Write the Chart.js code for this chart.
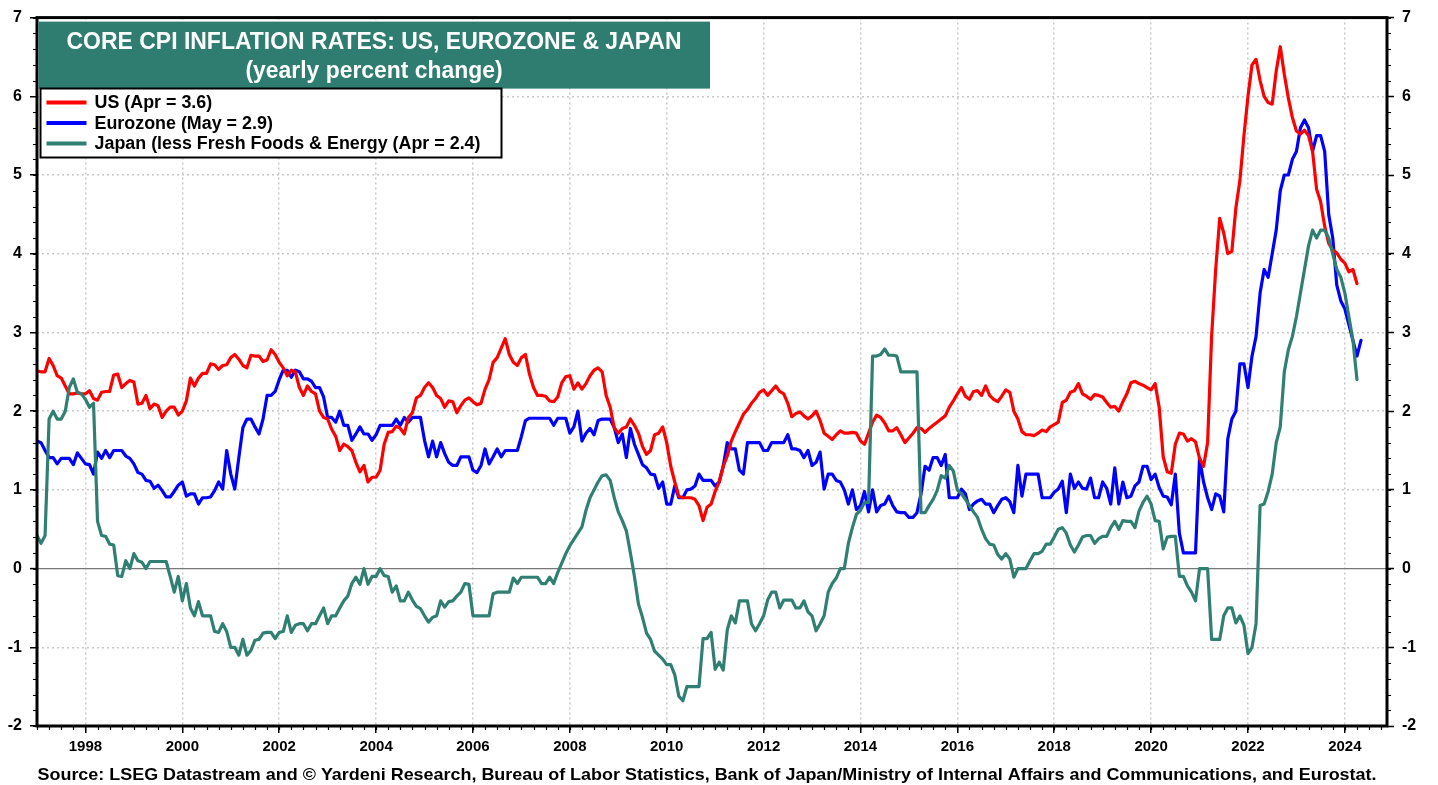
<!DOCTYPE html>
<html>
<head>
<meta charset="utf-8">
<title>Core CPI Inflation Rates: US, Eurozone & Japan</title>
<script src="https://cdn.jsdelivr.net/npm/chart.js@4.4.1/dist/chart.umd.min.js"></script>
<style>
    html, body { margin: 0; padding: 0; background: #fff; }
    #wrap { width: 1438px; height: 785px; position: relative; }
</style>
</head>
<body>
<div id="wrap"><canvas id="cpiChart"></canvas></div>
<script>
// monthly yearly % change, first value = Jan 1997
const startYear = 1997;

const usCore = [
    2.51, 2.50, 2.50, 2.67, 2.58, 2.45, 2.42, 2.32, 2.22, 2.22, 2.23, 2.22,
    2.22, 2.26, 2.16, 2.14, 2.24, 2.25, 2.25, 2.46, 2.47, 2.30, 2.35, 2.39,
    2.37, 2.09, 2.10, 2.20, 2.03, 2.09, 2.07, 1.92, 2.00, 2.05, 2.05, 1.95,
    2.00, 2.13, 2.42, 2.32, 2.42, 2.48, 2.48, 2.60, 2.59, 2.53, 2.58, 2.59,
    2.68, 2.72, 2.66, 2.58, 2.55, 2.71, 2.70, 2.70, 2.63, 2.65, 2.78, 2.72,
    2.62, 2.55, 2.45, 2.52, 2.50, 2.30, 2.20, 2.32, 2.25, 2.22, 2.00, 1.92,
    1.90, 1.77, 1.68, 1.50, 1.58, 1.55, 1.50, 1.35, 1.23, 1.31, 1.10, 1.16,
    1.16, 1.25, 1.58, 1.73, 1.74, 1.81, 1.78, 1.71, 1.92, 1.98, 2.17, 2.20,
    2.30, 2.36, 2.30, 2.20, 2.16, 2.05, 2.13, 2.12, 1.98, 2.07, 2.14, 2.17,
    2.12, 2.08, 2.10, 2.28, 2.40, 2.62, 2.68, 2.80, 2.92, 2.72, 2.62, 2.58,
    2.68, 2.72, 2.47, 2.30, 2.20, 2.20, 2.19, 2.13, 2.12, 2.18, 2.36, 2.44,
    2.45, 2.28, 2.36, 2.28, 2.35, 2.45, 2.52, 2.55, 2.50, 2.20, 2.05, 1.79,
    1.72, 1.78, 1.80, 1.90, 1.82, 1.72, 1.55, 1.45, 1.50, 1.70, 1.72, 1.80,
    1.60, 1.30, 1.10, 0.92, 0.90, 0.90, 0.90, 0.88, 0.80, 0.61, 0.78, 0.82,
    0.98, 1.10, 1.30, 1.43, 1.62, 1.74, 1.85, 1.96, 2.02, 2.10, 2.16, 2.24,
    2.27, 2.20, 2.26, 2.32, 2.25, 2.22, 2.10, 1.93, 1.97, 1.99, 1.94, 1.90,
    1.94, 2.00, 1.88, 1.72, 1.68, 1.64, 1.70, 1.75, 1.72, 1.72, 1.73, 1.72,
    1.62, 1.58, 1.72, 1.86, 1.95, 1.92, 1.85, 1.75, 1.75, 1.79, 1.70, 1.60,
    1.66, 1.72, 1.79, 1.78, 1.73, 1.78, 1.82, 1.86, 1.90, 1.94, 2.05, 2.13,
    2.22, 2.30, 2.19, 2.15, 2.25, 2.26, 2.20, 2.32, 2.20, 2.15, 2.12, 2.19,
    2.27, 2.24, 2.00, 1.90, 1.74, 1.70, 1.70, 1.69, 1.72, 1.76, 1.74, 1.80,
    1.83, 1.86, 2.11, 2.14, 2.24, 2.26, 2.35, 2.22, 2.19, 2.15, 2.21, 2.20,
    2.18, 2.11, 2.05, 2.06, 2.00, 2.12, 2.22, 2.36, 2.38, 2.35, 2.33, 2.30,
    2.27, 2.35, 2.05, 1.42, 1.23, 1.21, 1.58, 1.72, 1.71, 1.62, 1.65, 1.61,
    1.40, 1.30, 1.60, 2.96, 3.80, 4.45, 4.26, 4.00, 4.03, 4.58, 4.93, 5.50,
    6.00, 6.40, 6.47, 6.20, 6.00, 5.92, 5.90, 6.32, 6.63, 6.28, 5.98, 5.73,
    5.56, 5.52, 5.57, 5.50, 5.30, 4.82, 4.66, 4.35, 4.13, 4.05, 4.01, 3.93,
    3.88, 3.77, 3.80, 3.62
];

const euroCore = [
    1.62, 1.60, 1.50, 1.41, 1.41, 1.33, 1.40, 1.40, 1.40, 1.32, 1.47, 1.40,
    1.33, 1.32, 1.20, 1.48, 1.40, 1.50, 1.41, 1.50, 1.50, 1.50, 1.43, 1.40,
    1.33, 1.22, 1.20, 1.12, 1.11, 1.02, 1.06, 0.99, 0.91, 0.91, 0.98, 1.06,
    1.10, 0.92, 0.95, 0.95, 0.82, 0.90, 0.90, 0.91, 0.99, 1.10, 1.01, 1.50,
    1.20, 1.01, 1.41, 1.79, 1.90, 1.90, 1.80, 1.71, 1.90, 2.20, 2.20, 2.25,
    2.40, 2.52, 2.52, 2.43, 2.52, 2.50, 2.41, 2.41, 2.38, 2.30, 2.30, 2.18,
    1.92, 1.92, 1.86, 2.00, 1.82, 1.82, 1.63, 1.71, 1.80, 1.71, 1.71, 1.63,
    1.70, 1.82, 1.82, 1.82, 1.82, 1.90, 1.82, 1.92, 1.86, 1.92, 1.92, 1.92,
    1.63, 1.42, 1.62, 1.42, 1.60, 1.46, 1.35, 1.31, 1.31, 1.42, 1.42, 1.42,
    1.25, 1.22, 1.31, 1.52, 1.33, 1.42, 1.52, 1.42, 1.50, 1.50, 1.50, 1.50,
    1.68, 1.88, 1.91, 1.91, 1.91, 1.91, 1.91, 1.91, 1.82, 1.91, 1.91, 1.91,
    1.72, 1.80, 2.00, 1.62, 1.72, 1.78, 1.70, 1.88, 1.90, 1.90, 1.90, 1.79,
    1.60, 1.71, 1.41, 1.78, 1.58, 1.45, 1.32, 1.28, 1.20, 1.19, 1.02, 1.10,
    0.82, 0.82, 1.05, 0.90, 0.90, 1.00, 1.01, 1.05, 1.20, 1.12, 1.12, 1.12,
    1.05, 1.10, 1.30, 1.60, 1.52, 1.52, 1.25, 1.20, 1.60, 1.60, 1.60, 1.60,
    1.50, 1.50, 1.60, 1.60, 1.60, 1.60, 1.70, 1.52, 1.52, 1.50, 1.41, 1.50,
    1.31, 1.35, 1.48, 1.01, 1.20, 1.20, 1.12, 1.10, 1.00, 0.82, 1.00, 0.75,
    0.80, 0.98, 0.72, 1.00, 0.72, 0.80, 0.82, 0.92, 0.80, 0.72, 0.71, 0.71,
    0.65, 0.65, 0.71, 0.95, 1.30, 1.25, 1.41, 1.41, 1.31, 1.45, 0.90, 0.90,
    0.90, 1.01, 0.95, 0.75, 0.82, 0.86, 0.88, 0.82, 0.82, 0.71, 0.80, 0.88,
    0.90, 0.85, 0.71, 1.31, 0.92, 1.20, 1.20, 1.20, 1.20, 0.90, 0.90, 0.90,
    0.97, 1.01, 1.11, 0.71, 1.20, 1.02, 1.10, 1.02, 1.01, 1.15, 0.90, 0.90,
    1.10, 1.02, 0.82, 1.28, 0.82, 1.10, 0.90, 0.92, 1.05, 1.10, 1.30, 1.30,
    1.13, 1.20, 1.03, 0.92, 0.91, 0.81, 1.20, 0.45, 0.20, 0.20, 0.20, 0.20,
    1.40, 1.10, 0.90, 0.75, 0.95, 0.92, 0.72, 1.65, 1.90, 2.00, 2.60, 2.60,
    2.30, 2.70, 2.95, 3.50, 3.80, 3.70, 4.00, 4.30, 4.80, 5.00, 5.00, 5.20,
    5.30, 5.60, 5.70, 5.60, 5.30, 5.50, 5.50, 5.30, 4.50, 4.20, 3.60, 3.40,
    3.30, 3.10, 2.90, 2.70, 2.90
];

const japanCore = [
    0.42, 0.32, 0.42, 1.90, 2.00, 1.90, 1.90, 2.00, 2.30, 2.41, 2.24, 2.22,
    2.15, 2.05, 2.10, 0.60, 0.42, 0.41, 0.31, 0.30, -0.09, -0.10, 0.10, 0.00,
    0.19, 0.10, 0.08, 0.00, 0.09, 0.09, 0.09, 0.09, 0.09, -0.10, -0.30, -0.10,
    -0.41, -0.19, -0.50, -0.60, -0.42, -0.60, -0.60, -0.60, -0.80, -0.81, -0.70, -0.80,
    -1.00, -1.00, -1.10, -0.90, -1.10, -1.04, -0.91, -0.90, -0.82, -0.81, -0.81, -0.89,
    -0.81, -0.80, -0.60, -0.81, -0.72, -0.70, -0.70, -0.79, -0.70, -0.70, -0.60, -0.50,
    -0.70, -0.60, -0.60, -0.50, -0.41, -0.35, -0.19, -0.11, -0.20, 0.00, -0.20, -0.10,
    -0.10, 0.00, -0.09, -0.10, -0.30, -0.22, -0.41, -0.41, -0.30, -0.40, -0.48, -0.51,
    -0.60, -0.68, -0.62, -0.60, -0.41, -0.49, -0.42, -0.41, -0.35, -0.30, -0.19, -0.20,
    -0.60, -0.60, -0.60, -0.60, -0.60, -0.32, -0.30, -0.30, -0.30, -0.30, -0.12, -0.19,
    -0.11, -0.11, -0.11, -0.11, -0.11, -0.19, -0.19, -0.11, -0.19, -0.05, 0.07, 0.19,
    0.29, 0.37, 0.45, 0.53, 0.74, 0.90, 1.00, 1.10, 1.18, 1.19, 1.12, 0.90,
    0.72, 0.61, 0.48, 0.20, -0.10, -0.45, -0.62, -0.82, -0.90, -1.05, -1.10, -1.15,
    -1.22, -1.22, -1.35, -1.62, -1.68, -1.50, -1.50, -1.50, -1.50, -0.89, -0.89, -0.81,
    -1.28, -1.19, -1.29, -0.78, -0.60, -0.69, -0.41, -0.41, -0.41, -0.70, -0.79, -0.70,
    -0.60, -0.40, -0.30, -0.30, -0.50, -0.40, -0.40, -0.40, -0.50, -0.50, -0.41, -0.55,
    -0.60, -0.79, -0.70, -0.60, -0.30, -0.19, -0.12, 0.00, 0.00, 0.32, 0.52, 0.69,
    0.74, 0.84, 0.84, 2.70, 2.70, 2.72, 2.79, 2.71, 2.71, 2.70, 2.50, 2.50,
    2.50, 2.50, 2.50, 0.71, 0.71, 0.80, 0.88, 0.99, 1.18, 1.15, 1.31, 1.24,
    1.00, 0.95, 0.88, 0.80, 0.72, 0.65, 0.50, 0.38, 0.31, 0.30, 0.18, 0.12,
    0.19, 0.12, -0.11, 0.00, 0.00, 0.00, 0.10, 0.19, 0.19, 0.22, 0.31, 0.31,
    0.40, 0.50, 0.52, 0.45, 0.30, 0.21, 0.30, 0.40, 0.42, 0.42, 0.32, 0.38,
    0.41, 0.41, 0.52, 0.60, 0.50, 0.61, 0.60, 0.60, 0.52, 0.73, 0.84, 0.92,
    0.82, 0.61, 0.60, 0.25, 0.40, 0.41, 0.41, -0.10, -0.10, -0.22, -0.30, -0.41,
    0.00, 0.00, 0.00, -0.90, -0.90, -0.90, -0.60, -0.50, -0.50, -0.69, -0.60, -0.72,
    -1.08, -1.00, -0.70, 0.80, 0.82, 0.98, 1.20, 1.60, 1.80, 2.50, 2.78, 2.95,
    3.20, 3.50, 3.80, 4.10, 4.30, 4.20, 4.30, 4.30, 4.20, 4.00, 3.80, 3.70,
    3.50, 3.20, 2.90, 2.40
];

const seriesLabels = [
    'US (Apr = 3.6)',
    'Eurozone (May = 2.9)',
    'Japan (less Fresh Foods & Energy (Apr = 2.4)'
];
const seriesColors = ['#ff0000', '#0000ff', '#2f7f72'];

const yearTicks = [1998, 2000, 2002, 2004, 2006, 2008, 2010, 2012, 2014, 2016, 2018, 2020, 2022, 2024];
const yMin = -2;
const yMax = 7;
const xMin = 1997;
const xMax = 2024.87;

const titleLines = ['CORE CPI INFLATION RATES: US, EUROZONE & JAPAN', '(yearly percent change)'];
const sourceText = 'Source: LSEG Datastream and \u00a9 Yardeni Research, Bureau of Labor Statistics, Bank of Japan/Ministry of Internal Affairs and Communications, and Eurostat.';

const FONT = '"Liberation Sans", Arial, sans-serif';
const TEAL = '#2e7d70';

/**
 * Turns a monthly series into {x, y} points on a decimal-year axis.
 * @param {number[]} values - monthly values starting Jan of startYear.
 */
function toPoints(values) {
    return values.map((v, i) => ({ x: startYear + i / 12, y: v }));
}

/**
 * Draws text squeezed to a given width (the original uses a narrow face).
 */
function fitText(ctx, text, cx, y, width) {
    const w = ctx.measureText(text).width;
    ctx.save();
    ctx.translate(cx, y);
    ctx.scale(width / w, 1);
    ctx.textAlign = 'center';
    ctx.fillText(text, 0, 0);
    ctx.restore();
}

const decorPlugin = {
    id: 'decor',
    beforeDraw(chart) {
        const ctx = chart.ctx;
        ctx.save();
        ctx.fillStyle = '#fff';
        ctx.fillRect(0, 0, chart.width, chart.height);
        ctx.restore();
    },
    afterDraw(chart) {
        const ctx = chart.ctx;
        const area = chart.chartArea;
        const x = chart.scales.x;
        const y = chart.scales.y;

        ctx.save();
        ctx.strokeStyle = '#000';
        ctx.lineWidth = 1.2;

        // minor ticks on both value axes, every 0.2
        for (let v = yMin; v <= yMax + 1e-9; v += 0.2) {
            const py = Math.round(y.getPixelForValue(v)) + 0.5;
            ctx.beginPath();
            ctx.moveTo(area.left - 4, py);
            ctx.lineTo(area.left, py);
            ctx.moveTo(area.right, py);
            ctx.lineTo(area.right + 4, py);
            ctx.stroke();
        }
        // quarterly ticks on the time axis
        for (let q = xMin * 4; q <= xMax * 4; q++) {
            const px = Math.round(x.getPixelForValue(q / 4)) + 0.5;
            ctx.beginPath();
            ctx.moveTo(px, area.bottom);
            ctx.lineTo(px, area.bottom + 4);
            ctx.stroke();
        }

        // frame
        ctx.lineWidth = 3;
        ctx.strokeRect(area.left, area.top, area.right - area.left, area.bottom - area.top);

        // title box
        const tx = area.left + 1.5;
        ctx.fillStyle = TEAL;
        ctx.fillRect(tx, area.top + 4, 710 - tx, 67);
        ctx.fillStyle = '#fff';
        ctx.textBaseline = 'alphabetic';
        ctx.font = `bold 23px ${FONT}`;
        fitText(ctx, titleLines[0], 374, area.top + 31, 615);
        fitText(ctx, titleLines[1], 374, area.top + 60, 257);

        // legend box
        const lx = 40.5, ly = 88.5, lw = 461, lh = 69;
        ctx.fillStyle = '#fff';
        ctx.fillRect(lx, ly, lw, lh);
        ctx.lineWidth = 2;
        ctx.strokeStyle = '#000';
        ctx.strokeRect(lx, ly, lw, lh);
        ctx.font = `bold 18px ${FONT}`;
        ctx.textAlign = 'left';
        ctx.textBaseline = 'middle';
        const squeeze = 386 / ctx.measureText(seriesLabels[2]).width;
        seriesLabels.forEach((label, i) => {
            const rowY = ly + 14 + i * 20.5;
            ctx.strokeStyle = seriesColors[i];
            ctx.lineWidth = 4;
            ctx.beginPath();
            ctx.moveTo(lx + 6, rowY);
            ctx.lineTo(lx + 46, rowY);
            ctx.stroke();
            ctx.fillStyle = '#000';
            ctx.save();
            ctx.translate(lx + 54, rowY + 1);
            ctx.scale(squeeze, 1);
            ctx.fillText(label, 0, 0);
            ctx.restore();
        });

        // source line
        ctx.fillStyle = '#000';
        ctx.textBaseline = 'alphabetic';
        ctx.font = `bold 17px ${FONT}`;
        fitText(ctx, sourceText, 707, 780, 1339);
        ctx.restore();
    }
};

function buildChart() {
    const datasets = [usCore, euroCore, japanCore].map((values, i) => ({
        label: seriesLabels[i],
        data: toPoints(values),
        borderColor: seriesColors[i],
        backgroundColor: seriesColors[i],
        borderWidth: 3.2,
        pointRadius: 0,
        tension: 0,
        borderJoinStyle: 'round',
        borderCapStyle: 'round',
        order: [1, 2, 0][i]
    }));

    const valueTicks = {
        stepSize: 1,
        color: '#000',
        padding: 8,
        font: { family: FONT, size: 16, weight: 'bold' }
    };

    new Chart(document.getElementById('cpiChart'), {
        type: 'line',
        data: { datasets: datasets },
        options: {
            responsive: true,
            maintainAspectRatio: false,
            animation: false,
            events: [],
            layout: { padding: { top: 15, left: 0, right: 0, bottom: 0 } },
            plugins: {
                legend: { display: false },
                title: { display: false },
                tooltip: { enabled: false }
            },
            scales: {
                x: {
                    type: 'linear',
                    position: 'bottom',
                    min: xMin,
                    max: xMax,
                    afterBuildTicks: scale => {
                        scale.ticks = yearTicks.map(v => ({ value: v }));
                    },
                    afterFit: scale => { scale.height = 59; },
                    ticks: {
                        autoSkip: false,
                        maxRotation: 0,
                        color: '#000',
                        padding: 5,
                        font: { family: FONT, size: 15, weight: 'bold' },
                        callback: v => String(v)
                    },
                    grid: {
                        color: '#c8c8c8',
                        lineWidth: 1.5,
                        tickLength: 7,
                        tickColor: '#000',
                        tickWidth: 1.5
                    },
                    border: { display: false, dash: [2, 3] }
                },
                y: {
                    position: 'left',
                    min: yMin,
                    max: yMax,
                    afterFit: scale => { scale.width = 37; },
                    ticks: valueTicks,
                    grid: {
                        color: ctx => (ctx.tick && ctx.tick.value === 0 ? '#777' : '#c8c8c8'),
                        lineWidth: ctx => (ctx.tick && ctx.tick.value === 0 ? 1.2 : 1.5),
                        tickLength: 7,
                        tickColor: '#000',
                        tickWidth: 1.5
                    },
                    border: {
                        display: false,
                        dash: ctx => (ctx.tick && ctx.tick.value === 0 ? [] : [2, 3])
                    }
                },
                y2: {
                    position: 'right',
                    min: yMin,
                    max: yMax,
                    afterFit: scale => { scale.width = 51; },
                    ticks: valueTicks,
                    grid: {
                        drawOnChartArea: false,
                        tickLength: 7,
                        tickColor: '#000',
                        tickWidth: 1.5
                    },
                    border: { display: false }
                }
            }
        },
        plugins: [decorPlugin]
    });
}

buildChart();
</script>
</body>
</html>
